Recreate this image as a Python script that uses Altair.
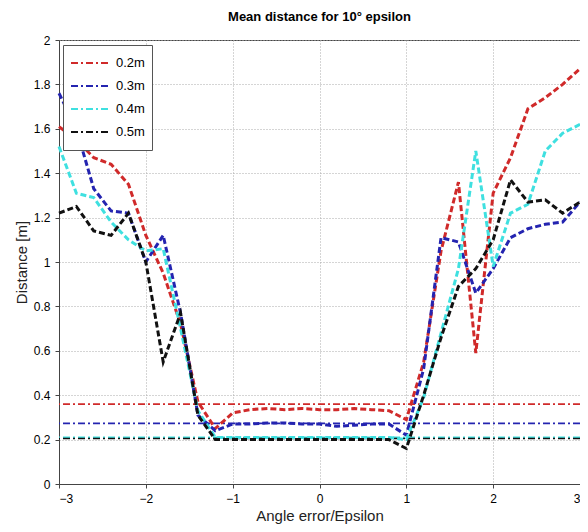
import altair as alt
import pandas as pd

x_vals = [-3.0, -2.8, -2.6, -2.4, -2.2, -2.0, -1.8, -1.6, -1.4, -1.2, -1.0,
          -0.8, -0.6, -0.4, -0.2, 0.0, 0.2, 0.4, 0.6, 0.8,
          1.0, 1.2, 1.4, 1.6, 1.8, 2.0, 2.2, 2.4, 2.6, 2.8, 3.0]

series_names = ["0.2m", "0.3m", "0.4m", "0.5m"]

d_02 = [1.61, 1.55, 1.47, 1.44, 1.35, 1.12, 0.95, 0.72, 0.37, 0.25, 0.32,
        0.335, 0.34, 0.335, 0.34, 0.335, 0.335, 0.34, 0.335, 0.33,
        0.29, 0.55, 1.05, 1.36, 0.59, 1.31, 1.47, 1.69, 1.74, 1.80, 1.87]
d_03 = [1.76, 1.60, 1.33, 1.23, 1.22, 1.00, 1.12, 0.77, 0.31, 0.24, 0.27,
        0.27, 0.275, 0.275, 0.27, 0.27, 0.26, 0.265, 0.27, 0.27,
        0.22, 0.52, 1.11, 1.09, 0.86, 0.97, 1.11, 1.15, 1.17, 1.18, 1.27]
d_04 = [1.52, 1.31, 1.29, 1.18, 1.10, 1.05, 1.06, 0.70, 0.33, 0.21, 0.21,
        0.21, 0.21, 0.21, 0.21, 0.21, 0.21, 0.21, 0.21, 0.21,
        0.20, 0.39, 0.68, 0.97, 1.50, 0.98, 1.22, 1.26, 1.50, 1.58, 1.62]
d_05 = [1.22, 1.25, 1.14, 1.12, 1.22, 1.00, 0.55, 0.77, 0.31, 0.20, 0.20,
        0.20, 0.20, 0.20, 0.20, 0.20, 0.20, 0.20, 0.20, 0.20,
        0.16, 0.40, 0.66, 0.89, 0.97, 1.10, 1.37, 1.27, 1.28, 1.22, 1.27]

ref_vals = [0.36, 0.273, 0.21, 0.205]

colors = ["#d02a2a", "#2424b0", "#3fe0e0", "#111111"]

rows = []
for name, vals in zip(series_names, [d_02, d_03, d_04, d_05]):
    for xv, yv in zip(x_vals, vals):
        rows.append({"x": xv, "y": yv, "series": name})
df = pd.DataFrame(rows)
ref_df = pd.DataFrame({"series": series_names, "ref": ref_vals})

font = "Liberation Sans"

color_scale = alt.Scale(domain=series_names, range=colors)

legend = alt.Legend(
    title=None, orient="none", legendX=4, legendY=5,
    symbolType="stroke", symbolSize=1600, clipHeight=22,
    symbolDash=[7, 3, 2, 3], symbolStrokeWidth=2,
    labelFontSize=13, labelFont=font, labelColor="#000",
    fillColor="white", strokeColor="#555", padding=7,
    rowPadding=1, labelOffset=4)

x_enc = alt.X("x:Q", scale=alt.Scale(domain=[-3, 3], nice=False),
              axis=alt.Axis(values=[-3, -2, -1, 0, 1, 2, 3], title="Angle error/Epsilon",
                            format="~g"))
y_enc = alt.Y("y:Q", scale=alt.Scale(domain=[0, 2], nice=False),
              axis=alt.Axis(values=[0, 0.2, 0.4, 0.6, 0.8, 1, 1.2, 1.4, 1.6, 1.8, 2],
                            title="Distance [m]", format="~g"))

lines = alt.Chart(df).mark_line(strokeWidth=3, strokeDash=[6, 3]).encode(
    x=x_enc,
    y=y_enc,
    color=alt.Color("series:N", scale=color_scale, legend=legend),
    detail="series:N",
)

refs = alt.Chart(ref_df).mark_rule(strokeWidth=1.6, strokeDash=[7, 3, 2, 3]).encode(
    y=alt.Y("ref:Q", scale=alt.Scale(domain=[0, 2], nice=False)),
    color=alt.Color("series:N", scale=color_scale, legend=legend),
)

chart = alt.layer(refs, lines).properties(
    width=521, height=444,
    autosize=alt.AutoSizeParams(type="none"),
    padding={"left": 51, "top": 32, "right": 0, "bottom": 40},
    title=alt.Title("Mean distance  for 10° epsilon", fontSize=13, font=font,
                    fontWeight="bold", offset=10, color="#000"),
).configure_axis(
    labelFont=font, labelFontSize=12, labelColor="#000",
    titleFont=font, titleFontSize=15, titleFontWeight="normal", titleColor="#222",
    gridDash=[1, 2], gridColor="#aaaaaa", gridOpacity=1,
    domainColor="#444", tickColor="#444", tickSize=4,
    labelPadding=5,
).configure_view(stroke="#444", strokeWidth=1)

chart.save("out.html", embed_options={"renderer": "svg", "actions": False})
